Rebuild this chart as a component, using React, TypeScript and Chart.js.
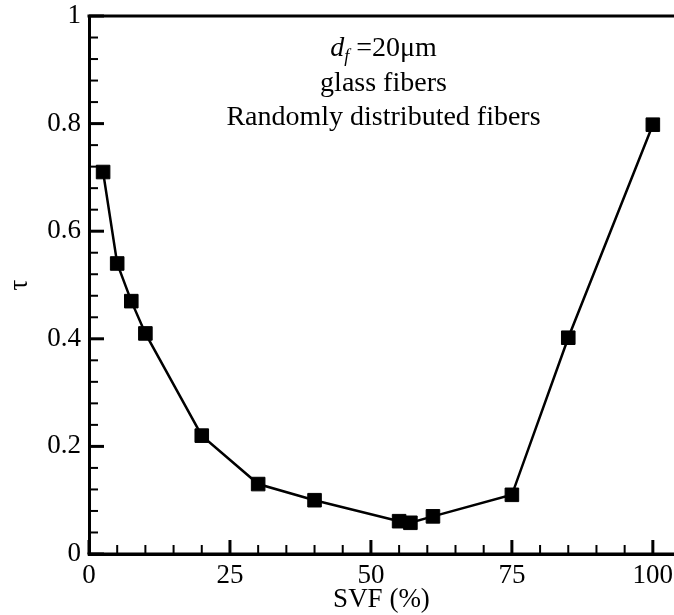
import React, { useEffect, useRef } from 'react';
import { Chart, registerables } from 'chart.js';

Chart.register(...registerables);

const svf = [2.5, 5, 7.5, 10, 20, 30, 40, 55, 57, 61, 75, 85, 100];
const tau = [0.71, 0.54, 0.47, 0.41, 0.22, 0.13, 0.1, 0.061, 0.058, 0.07, 0.11, 0.402, 0.798];
const xTicks = [0, 25, 50, 75, 100];
const yTicks = [0, 0.2, 0.4, 0.6, 0.8, 1];
const xMinorStep = 5;
const yMinorStep = 0.04;
const noteHead = 'd';
const noteSub = 'f';
const noteTail = ' =20\u03BCm';
const noteLines = ['glass fibers', 'Randomly distributed fibers'];
const xTitle = 'SVF (%)';
const yTitle = '\u03C4';

const FONT = "'Liberation Serif', 'Times New Roman', serif";
const VIEW_W = 674;
const CANVAS_W = 686;

const decor = {
  id: 'decor',
  beforeDatasetsDraw(chart: any) {
    const { ctx, chartArea } = chart;
    const xs = chart.scales.x;
    const ys = chart.scales.y;
    ctx.save();
    ctx.strokeStyle = '#000';
    ctx.lineCap = 'butt';
    for (let i = 0; i * xMinorStep <= xs.max + 1e-9; i++) {
      const v = i * xMinorStep;
      const major = xTicks.some((t) => Math.abs(t - v) < 1e-6);
      const px = xs.getPixelForValue(v);
      ctx.lineWidth = major ? 3 : 2;
      ctx.beginPath();
      ctx.moveTo(px, chartArea.bottom);
      ctx.lineTo(px, chartArea.bottom - (major ? 14 : 9));
      ctx.stroke();
    }
    for (let i = 0; i * yMinorStep <= ys.max + 1e-9; i++) {
      const v = i * yMinorStep;
      const major = yTicks.some((t) => Math.abs(t - v) < 1e-6);
      const py = ys.getPixelForValue(v);
      ctx.lineWidth = major ? 3 : 2;
      ctx.beginPath();
      ctx.moveTo(chartArea.left, py);
      ctx.lineTo(chartArea.left + (major ? 15 : 9), py);
      ctx.stroke();
    }
    ctx.lineWidth = 3;
    ctx.beginPath();
    ctx.moveTo(chartArea.left - 1.5, chartArea.top);
    ctx.lineTo(chart.width, chartArea.top);
    ctx.moveTo(chartArea.left - 1.5, chartArea.bottom);
    ctx.lineTo(chart.width, chartArea.bottom);
    ctx.stroke();
    ctx.restore();
  },
  afterDraw(chart: any) {
    const { ctx, chartArea } = chart;
    const cx = (chartArea.left + VIEW_W) / 2 + 2;
    ctx.save();
    ctx.fillStyle = '#000';
    ctx.textBaseline = 'alphabetic';
    ctx.textAlign = 'left';
    const big = 28;
    const small = 18;
    ctx.font = `italic ${big}px ${FONT}`;
    const wHead = ctx.measureText(noteHead).width;
    ctx.font = `italic ${small}px ${FONT}`;
    const wSub = ctx.measureText(noteSub).width;
    ctx.font = `${big}px ${FONT}`;
    const wTail = ctx.measureText(noteTail).width;
    const total = wHead + wSub + wTail;
    let x = cx - total / 2;
    const b1 = 56;
    ctx.font = `italic ${big}px ${FONT}`;
    ctx.fillText(noteHead, x, b1);
    x += wHead;
    ctx.font = `italic ${small}px ${FONT}`;
    ctx.fillText(noteSub, x, b1 + 6);
    x += wSub;
    ctx.font = `${big}px ${FONT}`;
    ctx.fillText(noteTail, x, b1);
    ctx.textAlign = 'center';
    noteLines.forEach((t, i) => {
      ctx.fillText(t, cx, b1 + 34.5 * (i + 1));
    });
    ctx.restore();
  },
};

export default function App() {
  const ref = useRef<HTMLCanvasElement>(null);
  useEffect(() => {
    const canvas = ref.current;
    if (!canvas) return;
    const chart = new Chart(canvas, {
      type: 'scatter',
      data: {
        datasets: [
          {
            data: svf.map((x, i) => ({ x, y: tau[i] })),
            showLine: true,
            borderColor: '#000',
            borderWidth: 2.5,
            backgroundColor: '#000',
            pointStyle: 'rect',
            pointRadius: 9.6,
            pointBorderWidth: 1,
            pointBorderColor: '#000',
            pointBackgroundColor: '#000',
          },
        ],
      },
      plugins: [decor],
      options: {
        responsive: false,
        animation: false,
        devicePixelRatio: 1,
        layout: { padding: { top: 16, right: 0, left: 0, bottom: 0 } },
        plugins: { legend: { display: false }, tooltip: { enabled: false } },
        scales: {
          x: {
            type: 'linear',
            min: 0,
            max: 104,
            afterBuildTicks: (s: any) => {
              s.ticks = xTicks.map((v) => ({ value: v }));
            },
            afterFit: (s: any) => {
              s.height = 61;
            },
            grid: { display: false, drawTicks: false },
            border: { display: true, width: 3, color: '#000' },
            ticks: {
              padding: 6,
              color: '#000',
              maxRotation: 0,
              autoSkip: false,
              font: { family: FONT, size: 27 },
              callback: (v: any) => String(v),
            },
            title: {
              display: false,
            },
          },
          y: {
            type: 'linear',
            min: 0,
            max: 1,
            afterBuildTicks: (s: any) => {
              s.ticks = yTicks.map((v) => ({ value: v }));
            },
            afterFit: (s: any) => {
              s.width = 89;
              s.paddingTop = 0;
              s.paddingBottom = 0;
            },
            grid: { display: false, drawTicks: false },
            border: { display: true, width: 3, color: '#000' },
            ticks: {
              padding: 8,
              color: '#000',
              autoSkip: false,
              font: { family: FONT, size: 27 },
              callback: (v: any) => String(Number(Number(v).toFixed(2))),
            },
            title: {
              display: true,
              text: yTitle,
              color: '#000',
              font: { family: FONT, size: 27 },
              padding: { top: 4, bottom: 0 },
            },
          },
        },
      },
    });
    return () => chart.destroy();
  }, []);
  return (
    <div style={{ position: 'fixed', left: 0, top: 0, width: VIEW_W, height: 615, overflow: 'hidden', background: '#fff' }}>
      <canvas ref={ref} width={CANVAS_W} height={615} style={{ width: CANVAS_W, height: 615, display: 'block' }} />
      <div
        style={{
          position: 'absolute',
          left: 89,
          width: VIEW_W - 89,
          top: 582,
          textAlign: 'center',
          fontFamily: FONT,
          fontSize: 27,
          lineHeight: '32px',
          color: '#000',
        }}
      >
        {xTitle}
      </div>
    </div>
  );
}
